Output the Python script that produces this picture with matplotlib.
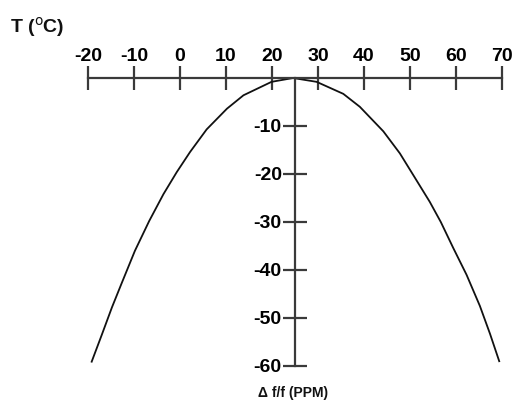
import matplotlib
matplotlib.use("Agg")
import matplotlib.pyplot as plt

# Data (temperature in °C, frequency deviation in PPM)
temps = [-19.2, -17.0, -14.8, -12.7, -9.8, -6.7, -3.6, -0.7, 2.2, 5.8, 10.2, 13.8,
         19.9, 24.6, 29.7, 35.5, 39.1, 44.2, 47.8, 50.7, 54.3, 56.7, 59.4, 62.3,
         65.2, 67.4, 69.4]
ppm   = [-59.1, -53.5, -47.8, -42.8, -36.0, -29.8, -24.2, -19.6, -15.4, -10.7, -6.4, -3.6,
         -0.8, 0.0, -0.8, -3.3, -6.0, -11.1, -15.7, -20.2, -25.8, -30.0, -35.4, -41.0,
         -47.5, -53.3, -59.0]

x_ticks = [-20, -10, 0, 10, 20, 30, 40, 50, 60, 70]
y_ticks = [-10, -20, -30, -40, -50, -60]
x_title = "T ($^{\\rm o}$C)"
y_title = "\u0394 f/f (PPM)"

plt.rcParams['font.family'] = ['Liberation Sans', 'DejaVu Sans']
plt.rcParams['axes.unicode_minus'] = False
plt.rcParams['mathtext.default'] = 'bf'

fig = plt.figure(figsize=(5.19, 4.05), dpi=100)
ax = fig.add_axes([0, 0, 1, 1])
ax.set_xlim(-39.13, 73.7)
ax.set_ylim(-68.125, 16.25)
ax.patch.set_visible(False)

axcol = '#3a3a3a'
for s in ['bottom', 'right']:
    ax.spines[s].set_visible(False)
ax.spines['top'].set_position(('data', 0))
ax.spines['top'].set_bounds(-20, 70)
ax.spines['left'].set_position(('data', 25))
ax.spines['left'].set_bounds(-60, 0)
for s in ['top', 'left']:
    ax.spines[s].set_color(axcol)
    ax.spines[s].set_linewidth(1.6)

ax.xaxis.set_ticks_position('top')
ax.set_xticks(x_ticks)
ax.set_yticks(y_ticks)
ax.tick_params(axis='x', direction='inout', length=17, width=1.6, color=axcol,
               pad=1, labelsize=14)
ax.tick_params(axis='y', direction='inout', length=17, width=1.6, color=axcol,
               pad=1, labelsize=14)
for lab in ax.get_xticklabels() + ax.get_yticklabels():
    lab.set_fontweight('bold')

ax.plot(temps, ppm, color='#111111', lw=1.3, solid_joinstyle='round')

fig.text(10 / 519, 1 - 27 / 405, x_title, fontsize=14, fontweight='bold',
         ha='left', va='center', color='#111111')
fig.text(293 / 519, 1 - 393 / 405, y_title, fontsize=10, fontweight='bold',
         ha='center', va='center', color='#111111')

fig.savefig('out.png', dpi=100)
